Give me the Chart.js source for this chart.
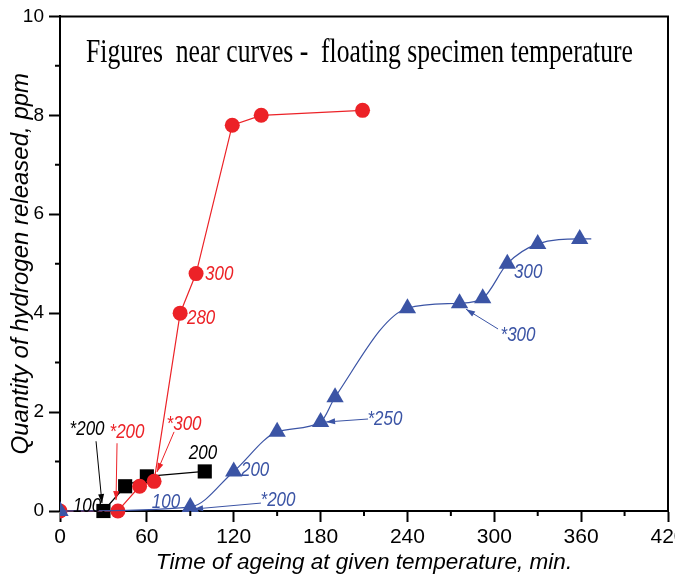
<!DOCTYPE html>
<html>
<head>
<meta charset="utf-8">
<script src="https://cdn.jsdelivr.net/npm/chart.js@4"></script>
<style>
  html, body { margin: 0; padding: 0; background: #fff; overflow: hidden; }
  #wrap { width: 675px; height: 576px; overflow: hidden; }
</style>
</head>
<body>
<div id="wrap"><canvas id="chart" width="700" height="576"></canvas></div>
<script>
// Hydrogen released vs time of ageing

const xTicks = [0, 60, 120, 180, 240, 300, 360, 420];
const yTicks = [0, 2, 4, 6, 8, 10];

// black squares
const blackTime = [30, 45, 60, 100];
const blackH = [0, 0.5, 0.7, 0.8];

// red circles
const redTime = [0, 40, 55, 65, 83, 94, 119, 139, 209];
const redH = [0, 0, 0.5, 0.6, 4.0, 4.8, 7.8, 8.0, 8.1];

// blue triangles (last point is the end of the line, no marker)
const blueTime = [0, 90, 120, 150, 180, 190, 240, 276, 292, 309, 330, 359, 367];
const blueH = [0, 0.08, 0.8, 1.6, 1.8, 2.3, 4.1, 4.2, 4.3, 5.0, 5.4, 5.5, 5.5];

const BLACK = '#000000';
const RED = '#ec2227';
const BLUE = '#3b54a5';

const titleText = 'Figures  near curves -  floating specimen temperature';
const xTitle = 'Time of ageing at given temperature, min.';
const yTitle = 'Quantity of hydrogen released, ppm';

// labels near the curves, in data units (arrow: from x,y to x,y)
const notes = [
  { text: '*200', x: 18.7, y: 1.64, color: BLACK, arrow: [24.9, 1.41, 29.0, 0.16] },
  { text: '100', x: 18.7, y: 0.10, color: BLACK },
  { text: '200', x: 98.8, y: 1.17, color: BLACK },
  { text: '*200', x: 46.3, y: 1.58, color: RED, arrow: [39.4, 1.37, 38.7, 0.22] },
  { text: '*300', x: 85.7, y: 1.76, color: RED, arrow: [78.8, 1.60, 67.0, 0.79] },
  { text: '300', x: 100.2, y: 4.79, color: RED, align: 'left' },
  { text: '280', x: 87.7, y: 3.90, color: RED, align: 'left' },
  { text: '100', x: 73.2, y: 0.18, color: BLUE },
  { text: '*200', x: 150.6, y: 0.22, color: BLUE, arrow: [138.8, 0.16, 92.6, 0.04] },
  { text: '200', x: 125, y: 0.81, color: BLUE, align: 'left' },
  { text: '*250', x: 224.5, y: 1.86, color: BLUE, arrow: [212.8, 1.86, 183.8, 1.80] },
  { text: '*300', x: 316.4, y: 3.54, color: BLUE, arrow: [302.6, 3.68, 280.5, 4.08] },
  { text: '300', x: 313.6, y: 4.83, color: BLUE, align: 'left' }
];

const SANS = "'Liberation Sans', Arial, sans-serif";

function toPoints(xs, ys) {
  return xs.map((x, i) => ({ x: x, y: ys[i] }));
}

function drawArrow(ctx, x1, y1, x2, y2) {
  ctx.beginPath();
  ctx.moveTo(x1, y1);
  ctx.lineTo(x2, y2);
  ctx.stroke();
  const a = Math.atan2(y2 - y1, x2 - x1);
  const L = 9, W = 3;
  ctx.beginPath();
  ctx.moveTo(x2, y2);
  ctx.lineTo(x2 - L * Math.cos(a) + W * Math.sin(a), y2 - L * Math.sin(a) - W * Math.cos(a));
  ctx.lineTo(x2 - L * Math.cos(a) - W * Math.sin(a), y2 - L * Math.sin(a) + W * Math.cos(a));
  ctx.closePath();
  ctx.fill();
}

// frame, minor ticks, title and notes
const decorations = {
  id: 'decorations',
  afterDatasetsDraw(chart) {
    const ctx = chart.ctx;
    const a = chart.chartArea;
    const xs = chart.scales.x, ys = chart.scales.y;
    ctx.save();

    // top and right frame
    ctx.strokeStyle = '#000';
    ctx.lineWidth = 2;
    ctx.beginPath();
    ctx.moveTo(a.left, a.top);
    ctx.lineTo(a.right, a.top);
    ctx.lineTo(a.right, a.bottom);
    ctx.stroke();

    // minor ticks
    ctx.beginPath();
    for (let i = 0; i < xTicks.length - 1; i++) {
      const px = xs.getPixelForValue((xTicks[i] + xTicks[i + 1]) / 2);
      ctx.moveTo(px, a.bottom);
      ctx.lineTo(px, a.bottom + 5);
    }
    for (let i = 0; i < yTicks.length - 1; i++) {
      const py = ys.getPixelForValue((yTicks[i] + yTicks[i + 1]) / 2);
      ctx.moveTo(a.left, py);
      ctx.lineTo(a.left - 5, py);
    }
    ctx.stroke();

    // title, condensed serif
    ctx.font = "33px 'Liberation Serif', 'Times New Roman', serif";
    ctx.fillStyle = '#000';
    ctx.textBaseline = 'alphabetic';
    ctx.textAlign = 'left';
    const w = ctx.measureText(titleText).width;
    ctx.save();
    ctx.translate(86, 62);
    ctx.scale(547 / w, 1);
    ctx.fillText(titleText, 0, 0);
    ctx.restore();

    // notes near curves, slightly condensed
    ctx.font = 'italic 20px ' + SANS;
    ctx.textBaseline = 'middle';
    ctx.lineWidth = 1;
    notes.forEach(n => {
      ctx.fillStyle = n.color;
      ctx.strokeStyle = n.color;
      ctx.textAlign = n.align || 'center';
      ctx.save();
      ctx.translate(xs.getPixelForValue(n.x), ys.getPixelForValue(n.y));
      ctx.scale(0.85, 1);
      ctx.fillText(n.text, 0, 0);
      ctx.restore();
      if (n.arrow) {
        drawArrow(ctx,
          xs.getPixelForValue(n.arrow[0]), ys.getPixelForValue(n.arrow[1]),
          xs.getPixelForValue(n.arrow[2]), ys.getPixelForValue(n.arrow[3]));
      }
    });
    ctx.restore();
  }
};

const clipLeft = { left: 0, top: false, right: false, bottom: false };

new Chart(document.getElementById('chart').getContext('2d'), {
  type: 'line',
  data: {
    datasets: [
      {
        label: 'squares',
        data: toPoints(blackTime, blackH),
        order: 3,
        borderColor: BLACK,
        backgroundColor: BLACK,
        borderWidth: 1.2,
        pointStyle: 'rect',
        pointRadius: 10,
        pointBorderWidth: 0,
        tension: 0,
        clip: clipLeft
      },
      {
        label: 'circles',
        data: toPoints(redTime, redH),
        order: 2,
        borderColor: RED,
        backgroundColor: RED,
        borderWidth: 1.2,
        pointStyle: 'circle',
        pointRadius: 7.5,
        pointBorderWidth: 0,
        tension: 0,
        clip: clipLeft
      },
      {
        label: 'triangles',
        data: toPoints(blueTime, blueH),
        order: 1,
        borderColor: BLUE,
        backgroundColor: BLUE,
        borderWidth: 1.2,
        pointStyle: 'triangle',
        pointRadius: blueTime.map((t, i) => i === blueTime.length - 1 ? 0 : 10),
        pointBorderWidth: 0,
        cubicInterpolationMode: 'monotone',
        clip: clipLeft
      }
    ]
  },
  options: {
    responsive: false,
    animation: false,
    layout: { padding: { top: 16, right: 32, left: 0, bottom: 0 } },
    plugins: {
      legend: { display: false },
      tooltip: { enabled: false }
    },
    scales: {
      x: {
        type: 'linear',
        min: 0,
        max: 420,
        afterBuildTicks: s => { s.ticks = xTicks.map(v => ({ value: v })); },
        afterFit: s => { s.height = 65; },
        border: { color: '#000', width: 2 },
        grid: { drawOnChartArea: false, tickLength: 11, tickWidth: 2, tickColor: '#000' },
        ticks: {
          autoSkip: false,
          maxRotation: 0,
          padding: 3,
          color: '#000',
          font: { family: SANS, size: 21 }
        },
        title: {
          display: true,
          text: xTitle,
          color: '#000',
          padding: { top: 0, bottom: 0 },
          font: { family: SANS, size: 22.5, style: 'italic' }
        }
      },
      y: {
        type: 'linear',
        min: 0,
        max: 10,
        afterBuildTicks: s => { s.ticks = yTicks.map(v => ({ value: v })); },
        afterFit: s => { s.width = 60; },
        border: { color: '#000', width: 2 },
        grid: { drawOnChartArea: false, tickLength: 11, tickWidth: 2, tickColor: '#000' },
        ticks: {
          padding: 5,
          color: '#000',
          font: { family: SANS, size: 19 }
        },
        title: {
          display: true,
          text: yTitle,
          color: '#000',
          padding: { top: 7, bottom: 0 },
          font: { family: SANS, size: 24, style: 'italic' }
        }
      }
    }
  },
  plugins: [decorations]
});
</script>
</body>
</html>
